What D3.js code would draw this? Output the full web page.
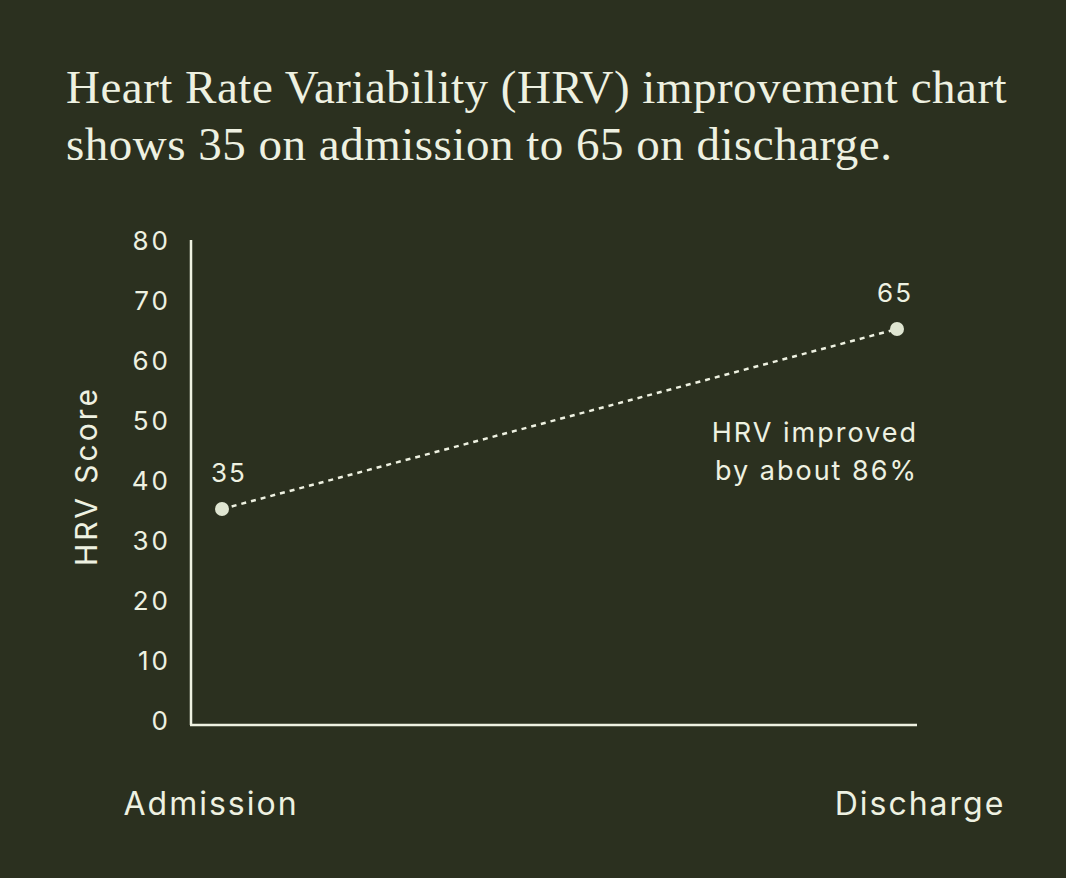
<!DOCTYPE html>
<html>
<head>
<meta charset="utf-8">
<script src="https://cdn.jsdelivr.net/npm/d3@7"></script>
<style>
  html, body { margin: 0; padding: 0; background: #2b301f; }
  svg { display: block; }
</style>
</head>
<body>
<div id="chart"></div>
<script>
// data
var stages = ["Admission", "Discharge"];
var hrvValues = [35, 65];
var yTicks = [0, 10, 20, 30, 40, 50, 60, 70, 80];
var titleLines = [
  "Heart Rate Variability (HRV) improvement chart",
  "shows 35 on admission to 65 on discharge."
];
var noteLines = ["HRV improved", "by about 86%"];

var W = 1066, H = 878;
var bg = "#2b301f";
var ink = "#eef1e1";
var sans = "Inter, 'Noto Sans', sans-serif";

var svg = d3.select("#chart").append("svg")
  .attr("width", W)
  .attr("height", H);

svg.append("rect").attr("width", W).attr("height", H).attr("fill", bg);

// title
svg.append("g").selectAll("text")
  .data(titleLines)
  .enter().append("text")
  .attr("x", 66)
  .attr("y", function(d, i) { return 103 + i * 57; })
  .attr("fill", ink)
  .style("font-family", "'Liberation Serif', 'DejaVu Serif', serif")
  .style("font-size", "47px")
  .style("letter-spacing", "0.5px")
  .text(function(d) { return d; });

// scales
var y = d3.scaleLinear().domain([0, 80]).range([719, 239]);
var x = d3.scalePoint().domain(stages).range([222, 897]);
var xLabel = d3.scalePoint().domain(stages).range([211, 920]);

// axes lines
var axisLeft = 191, axisRight = 917, axisBottom = 725;
svg.append("line")
  .attr("x1", axisLeft).attr("x2", axisLeft)
  .attr("y1", 240).attr("y2", axisBottom)
  .attr("stroke", ink).attr("stroke-width", 2.5);
svg.append("line")
  .attr("x1", axisLeft - 1).attr("x2", axisRight)
  .attr("y1", axisBottom).attr("y2", axisBottom)
  .attr("stroke", ink).attr("stroke-width", 2.5);

// y tick labels
svg.append("g").selectAll("text")
  .data(yTicks)
  .enter().append("text")
  .attr("x", 171)
  .attr("y", function(d) { return y(d) + 2; })
  .attr("dy", "0.36em")
  .attr("text-anchor", "end")
  .attr("fill", ink)
  .style("font-family", sans)
  .style("font-size", "26px")
  .style("letter-spacing", "3px")
  .text(function(d) { return d; });

// y axis title
svg.append("text")
  .attr("transform", "translate(97,476) rotate(-90)")
  .attr("text-anchor", "middle")
  .attr("fill", ink)
  .style("font-family", sans)
  .style("font-size", "30px")
  .style("letter-spacing", "3px")
  .text("HRV Score");

// x category labels
svg.append("g").selectAll("text")
  .data(stages)
  .enter().append("text")
  .attr("x", function(d) { return xLabel(d); })
  .attr("y", 815)
  .attr("text-anchor", "middle")
  .attr("fill", ink)
  .style("font-family", sans)
  .style("font-size", "32px")
  .style("letter-spacing", "2px")
  .text(function(d) { return d; });

var points = stages.map(function(s, i) { return { stage: s, value: hrvValues[i] }; });

// dotted connector
svg.append("path")
  .datum(points)
  .attr("d", d3.line()
    .x(function(d) { return x(d.stage); })
    .y(function(d) { return y(d.value); }))
  .attr("fill", "none")
  .attr("stroke", ink)
  .attr("stroke-width", 2.5)
  .attr("stroke-dasharray", "5,5");

svg.append("g").selectAll("circle")
  .data(points)
  .enter().append("circle")
  .attr("cx", function(d) { return x(d.stage); })
  .attr("cy", function(d) { return y(d.value); })
  .attr("r", 7)
  .attr("fill", "#dfe5d1");

// value labels
svg.append("g").selectAll("text")
  .data(points)
  .enter().append("text")
  .attr("x", function(d) { return x(d.stage) + (d.stage === "Admission" ? 7 : -2); })
  .attr("y", function(d) { return y(d.value) - 27; })
  .attr("text-anchor", "middle")
  .attr("fill", ink)
  .style("font-family", sans)
  .style("font-size", "26px")
  .style("letter-spacing", "2px")
  .text(function(d) { return d.value; });

// annotation
svg.append("g").selectAll("text")
  .data(noteLines)
  .enter().append("text")
  .attr("x", 918)
  .attr("y", function(d, i) { return 442 + i * 38; })
  .attr("text-anchor", "end")
  .attr("fill", ink)
  .style("font-family", sans)
  .style("font-size", "27px")
  .style("letter-spacing", "2px")
  .text(function(d) { return d; });
</script>
</body>
</html>
